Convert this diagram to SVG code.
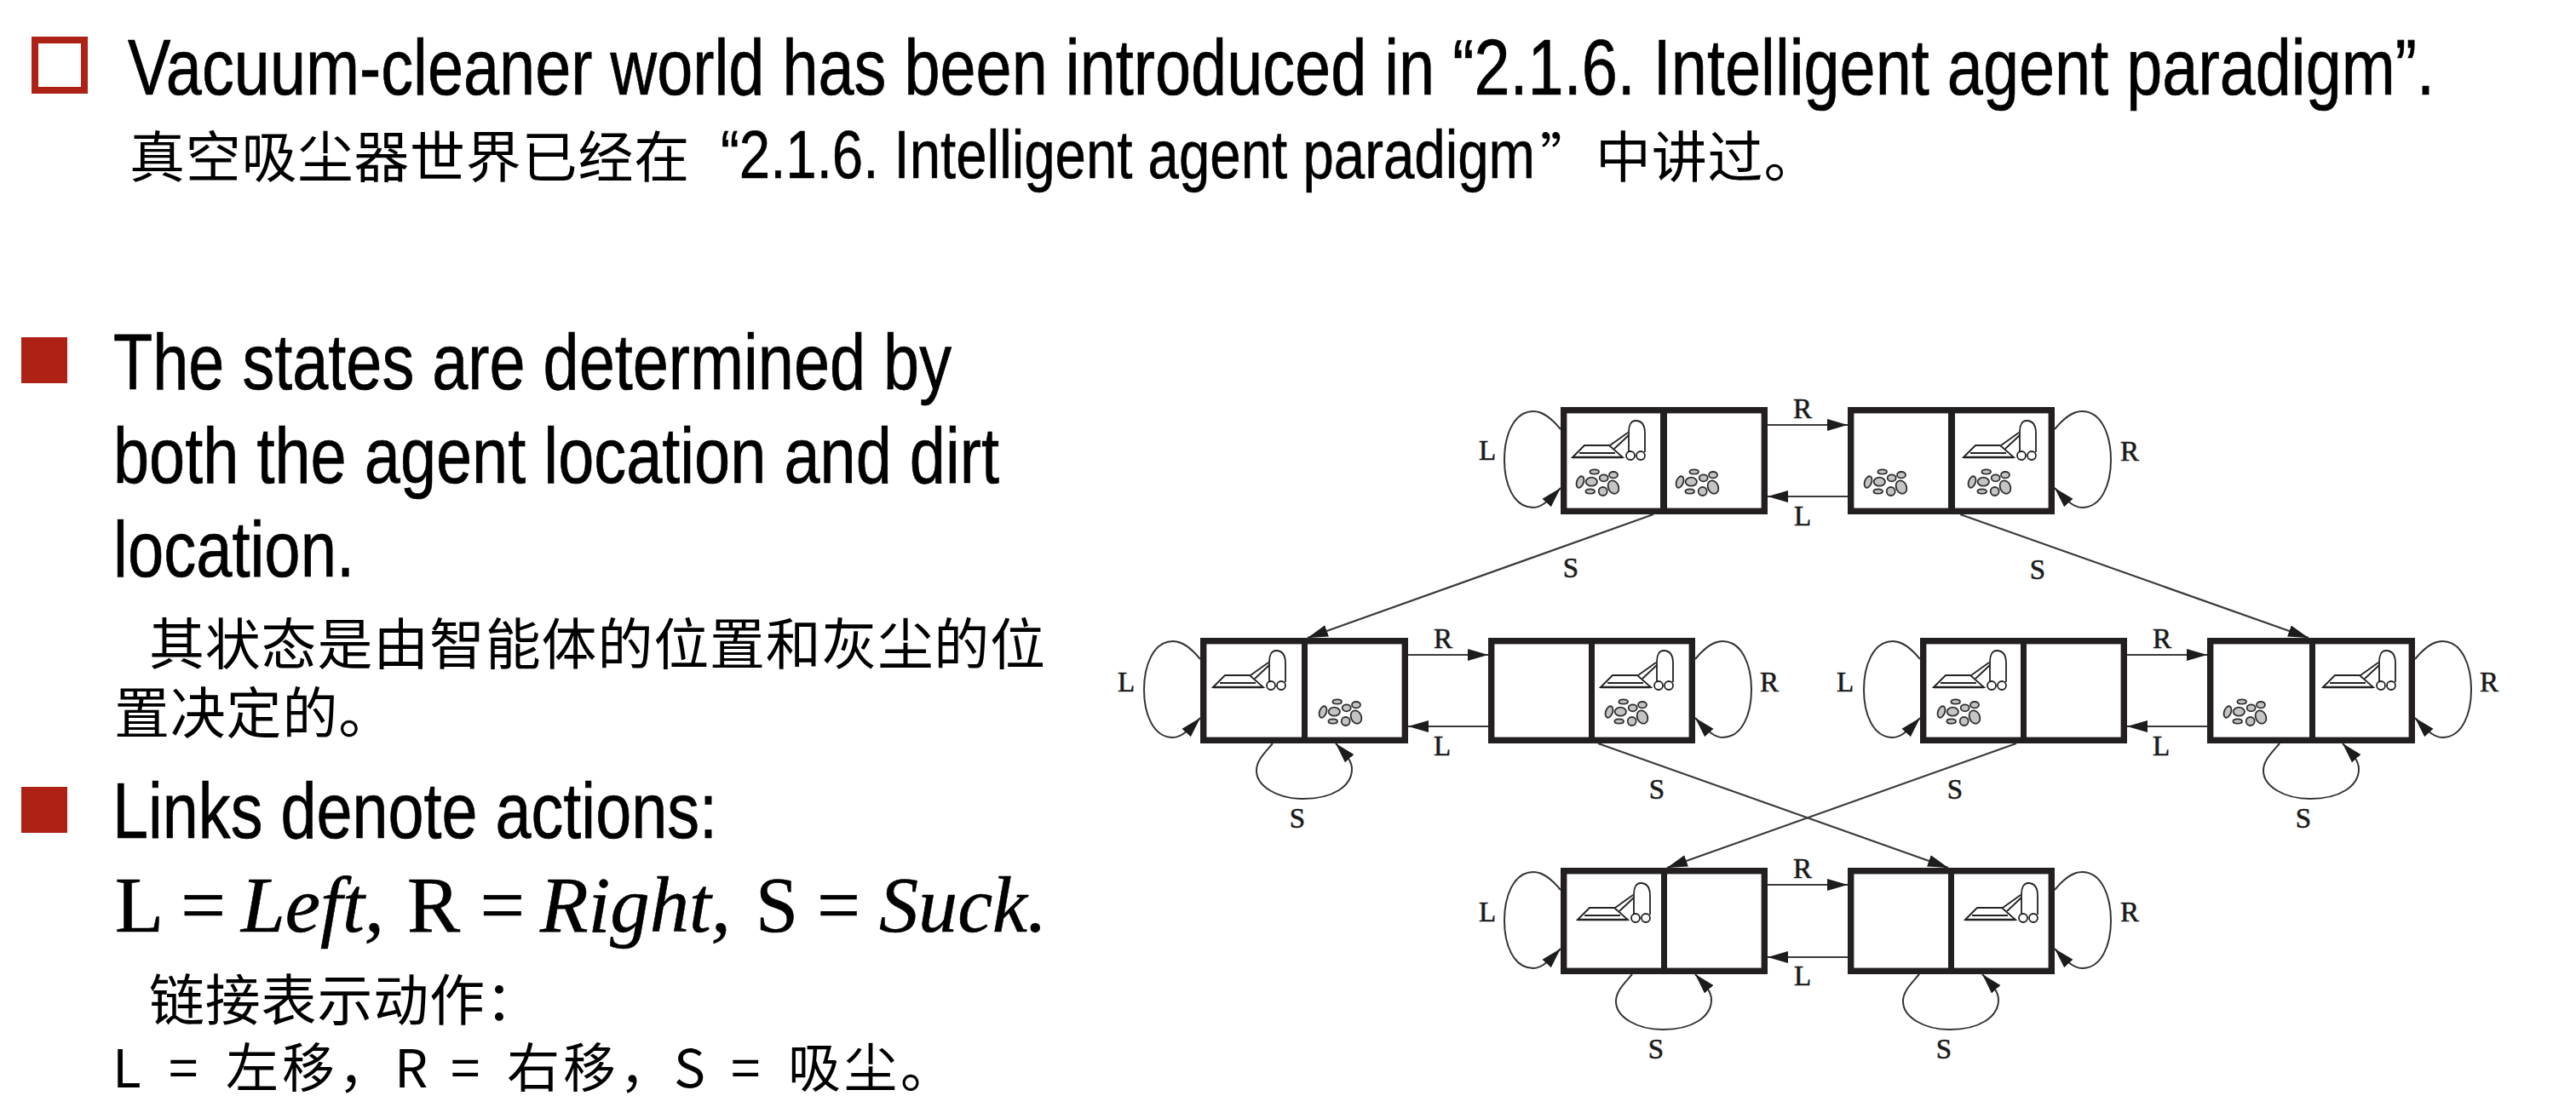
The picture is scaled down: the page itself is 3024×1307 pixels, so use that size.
<svg xmlns="http://www.w3.org/2000/svg" width="3024" height="1307" viewBox="0 0 3024 1307">
<style>
text{fill:#000}
.s{font-family:"Liberation Sans",Arial,sans-serif;font-size:93px;stroke:#000;stroke-width:.7}
.c{font-family:"Noto Sans CJK SC",sans-serif;font-size:65px;letter-spacing:.8px}
.q{font-family:"Noto Sans CJK SC",sans-serif;font-size:62px}
.l2{font-family:"Liberation Sans",Arial,sans-serif;font-size:80px;stroke:#000;stroke-width:.6}
.f{font-family:"Liberation Serif","Times New Roman",serif;font-size:94px;stroke:#000;stroke-width:.6}
.i{font-style:italic}
.lab{font-family:"Liberation Serif","Times New Roman",serif;font-size:33px;text-anchor:middle;fill:#1a1a1a;stroke:#1a1a1a;stroke-width:.6}
.b{fill:#ae2115}
.fr{fill:none;stroke:#231f20;stroke-width:7.4}
.dv{fill:#231f20}
.ln{fill:none;stroke:#3a3a3a;stroke-width:2.2;marker-end:url(#h)}
.lp{fill:none;stroke:#333;stroke-width:2;marker-end:url(#h)}
.vc{fill:none;stroke:#222;stroke-width:1.8}
.dt{fill:#c4c4c4;stroke:#2e2e2e;stroke-width:1.8}
</style>
<defs>
<marker id="h" markerUnits="userSpaceOnUse" markerWidth="25" markerHeight="16" refX="24" refY="8" orient="auto"><path d="M0 1L24 8L0 15Z" fill="#1c1c1c"/></marker>
<g id="vac" class="vc">
<path d="M0 0L14 -14H43L59 0ZM8 -5H50"/>
<path d="M0 0H59" stroke-width="2.6"/>
<path d="M44 -14L65 -29M49 -10L66 -26"/>
<path d="M66 -7V-30C66 -38 69 -43 74 -43C81 -43 85 -38 85 -28V-6"/>
<circle cx="68" cy="-2" r="5" fill="#fff"/><circle cx="80" cy="-2" r="5" fill="#fff"/>
</g>
<g id="dirt" class="dt">
<ellipse cx="21.7" cy="4" rx="5.3" ry="2.7"/>
<ellipse cx="32.7" cy="11.3" rx="5" ry="4"/>
<ellipse cx="44" cy="7.7" rx="5" ry="3.7"/>
<ellipse cx="5" cy="16" rx="4" ry="7" transform="rotate(20 5 16)"/>
<ellipse cx="18.3" cy="15.7" rx="6.7" ry="5"/>
<ellipse cx="44" cy="22" rx="6" ry="8" transform="rotate(-25 44 22)"/>
<ellipse cx="16.7" cy="27" rx="5.3" ry="2.7"/>
<ellipse cx="31.7" cy="27" rx="5" ry="5"/>
</g>
</defs>
<rect width="3024" height="1307" fill="#fff"/>

<g id="text">
<rect x="41" y="47" width="58" height="59" fill="none" stroke="#ae2115" stroke-width="8"/>
<text class="s" transform="translate(150 111) scale(.74 1)" textLength="3659.5" lengthAdjust="spacingAndGlyphs">Vacuum-cleaner world has been introduced in “2.1.6. Intelligent agent paradigm”.</text>
<text y="208"><tspan class="c" x="152">真空吸尘器世界已经在</tspan><tspan class="l2" x="846" y="209" textLength="956" lengthAdjust="spacingAndGlyphs">“2.1.6. Intelligent agent paradigm</tspan><tspan class="q" x="1808" y="208">”</tspan><tspan class="c" x="1873">中讲过。</tspan></text>
<rect class="b" x="25" y="396" width="54" height="54"/>
<text class="s" x="133" y="457" textLength="984" lengthAdjust="spacingAndGlyphs">The states are determined by</text>
<text class="s" x="133" y="567" textLength="1040" lengthAdjust="spacingAndGlyphs">both the agent location and dirt</text>
<text class="s" x="133" y="677" textLength="283" lengthAdjust="spacingAndGlyphs">location.</text>
<text class="c" x="175" y="780">其状态是由智能体的位置和灰尘的位</text>
<text class="c" x="134" y="861">置决定的。</text>
<rect class="b" x="25" y="924" width="54" height="54"/>
<text class="s" x="132" y="984" textLength="710" lengthAdjust="spacingAndGlyphs">Links denote actions:</text>
<text class="f" y="1094"><tspan x="135" textLength="130" lengthAdjust="spacingAndGlyphs">L =</tspan><tspan class="i" x="283" textLength="168" lengthAdjust="spacingAndGlyphs">Left,</tspan><tspan x="478" textLength="138" lengthAdjust="spacingAndGlyphs">R =</tspan><tspan class="i" x="634" textLength="224" lengthAdjust="spacingAndGlyphs">Right,</tspan><tspan x="887" textLength="123" lengthAdjust="spacingAndGlyphs">S =</tspan><tspan class="i" x="1032" textLength="197" lengthAdjust="spacingAndGlyphs">Suck.</tspan></text>
<text class="c" x="175" y="1198">链接表示动作：</text>
<text class="q" y="1277" x="132 166 198 232 265 331 397 463 496 529 562 595 661 727 791 826 858 892 925 991 1057">L = 左移，R = 右移，S = 吸尘。</text>
</g>

<g id="s1"><rect class="fr" x="1835.7" y="481.7" width="235.6" height="118.6"/><rect class="dv" x="1949" y="478" width="8" height="126"/><use href="#vac" x="1846" y="537"/><use href="#dirt" x="1850" y="550"/><use href="#dirt" x="1967" y="550"/></g>
<g id="s2"><rect class="fr" x="2172.7" y="481.7" width="235.6" height="118.6"/><rect class="dv" x="2287" y="478" width="8" height="126"/><use href="#dirt" x="2188" y="550"/><use href="#vac" x="2305" y="537"/><use href="#dirt" x="2310" y="550"/></g>
<g id="s3"><rect class="fr" x="1412.7" y="752.7" width="236.6" height="116.6"/><rect class="dv" x="1528" y="749" width="7" height="124"/><use href="#vac" x="1424" y="807"/><use href="#dirt" x="1548" y="820"/></g>
<g id="s4"><rect class="fr" x="1750.7" y="752.7" width="235.6" height="116.6"/><rect class="dv" x="1865" y="749" width="7" height="124"/><use href="#vac" x="1879" y="807"/><use href="#dirt" x="1884" y="820"/></g>
<g id="s5"><rect class="fr" x="2257.7" y="752.7" width="235.6" height="116.6"/><rect class="dv" x="2372" y="749" width="7" height="124"/><use href="#vac" x="2270" y="807"/><use href="#dirt" x="2274" y="820"/></g>
<g id="s6"><rect class="fr" x="2594.7" y="752.7" width="236.6" height="116.6"/><rect class="dv" x="2711" y="749" width="7" height="124"/><use href="#dirt" x="2610" y="820"/><use href="#vac" x="2727" y="807"/></g>
<g id="s7"><rect class="fr" x="1835.7" y="1022.7" width="235.6" height="117.6"/><rect class="dv" x="1950" y="1019" width="7" height="125"/><use href="#vac" x="1852" y="1080"/></g>
<g id="s8"><rect class="fr" x="2172.7" y="1022.7" width="235.6" height="117.6"/><rect class="dv" x="2287" y="1019" width="7" height="125"/><use href="#vac" x="2307" y="1080"/></g>

<g id="connectors">
<path class="ln" d="M2075 499H2169"/><path class="ln" d="M2169 583H2075"/>
<path class="ln" d="M1653 769H1747"/><path class="ln" d="M1747 853H1653"/>
<path class="ln" d="M2497 769H2591"/><path class="ln" d="M2591 853H2497"/>
<path class="ln" d="M2075 1039H2169"/><path class="ln" d="M2169 1124H2075"/>
<path class="ln" d="M1941 604L1535 749"/>
<path class="ln" d="M2301 604L2710 749"/>
<path class="ln" d="M1876 873L2287 1019"/>
<path class="ln" d="M2367 873L1957 1019"/>
<path class="lp" d="M1832 504c-10 -12 -20 -21 -32 -21c-24 0 -34 30 -34 57c0 27 10 56 34 56c10 0 19 -9 32 -23"/>
<path class="lp" d="M2412 504c10 -12 20 -21 32 -21c24 0 34 30 34 57c0 27 -10 56 -34 56c-10 0 -19 -9 -32 -23"/>
<path class="lp" d="M1409 774c-10 -12 -20 -21 -32 -21c-24 0 -34 30 -34 57c0 27 10 56 34 56c10 0 19 -9 32 -23"/>
<path class="lp" d="M1990 774c10 -12 20 -21 32 -21c24 0 34 30 34 57c0 27 -10 56 -34 56c-10 0 -19 -9 -32 -23"/>
<path class="lp" d="M2254 774c-10 -12 -20 -21 -32 -21c-24 0 -34 30 -34 57c0 27 10 56 34 56c10 0 19 -9 32 -23"/>
<path class="lp" d="M2835 774c10 -12 20 -21 32 -21c24 0 34 30 34 57c0 27 -10 56 -34 56c-10 0 -19 -9 -32 -23"/>
<path class="lp" d="M1832 1045c-10 -12 -20 -21 -32 -21c-24 0 -34 30 -34 57c0 27 10 56 34 56c10 0 19 -9 32 -23"/>
<path class="lp" d="M2412 1045c10 -12 20 -21 32 -21c24 0 34 30 34 57c0 27 -10 56 -34 56c-10 0 -19 -9 -32 -23"/>
<path class="lp" d="M1494 873c-10 12 -19 20 -19 32c0 18 24 33 55 33c35 0 57 -15 57 -35c0 -10 -8 -18 -19 -30"/>
<path class="lp" d="M2676 873c-10 12 -19 20 -19 32c0 18 24 33 55 33c35 0 57 -15 57 -35c0 -10 -8 -18 -19 -30"/>
<path class="lp" d="M1916 1144c-10 12 -19 20 -19 32c0 18 24 33 55 33c35 0 57 -15 57 -35c0 -10 -8 -18 -19 -30"/>
<path class="lp" d="M2253 1144c-10 12 -19 20 -19 32c0 18 24 33 55 33c35 0 57 -15 57 -35c0 -10 -8 -18 -19 -30"/>
</g>

<g id="labels">
<text class="lab" x="2116" y="491">R</text><text class="lab" x="2116" y="617">L</text><text class="lab" x="1746" y="540">L</text><text class="lab" x="2500" y="541">R</text><text class="lab" x="1844" y="678">S</text><text class="lab" x="2392" y="680">S</text>
<text class="lab" x="1694" y="761">R</text><text class="lab" x="1693" y="887">L</text><text class="lab" x="1322" y="812">L</text><text class="lab" x="2077" y="812">R</text><text class="lab" x="1523" y="972">S</text><text class="lab" x="1945" y="938">S</text>
<text class="lab" x="2538" y="761">R</text><text class="lab" x="2537" y="887">L</text><text class="lab" x="2166" y="812">L</text><text class="lab" x="2922" y="812">R</text><text class="lab" x="2295" y="938">S</text><text class="lab" x="2704" y="972">S</text>
<text class="lab" x="2116" y="1031">R</text><text class="lab" x="2116" y="1157">L</text><text class="lab" x="1746" y="1082">L</text><text class="lab" x="2500" y="1082">R</text><text class="lab" x="1944" y="1243">S</text><text class="lab" x="2282" y="1243">S</text>
</g>
</svg>
